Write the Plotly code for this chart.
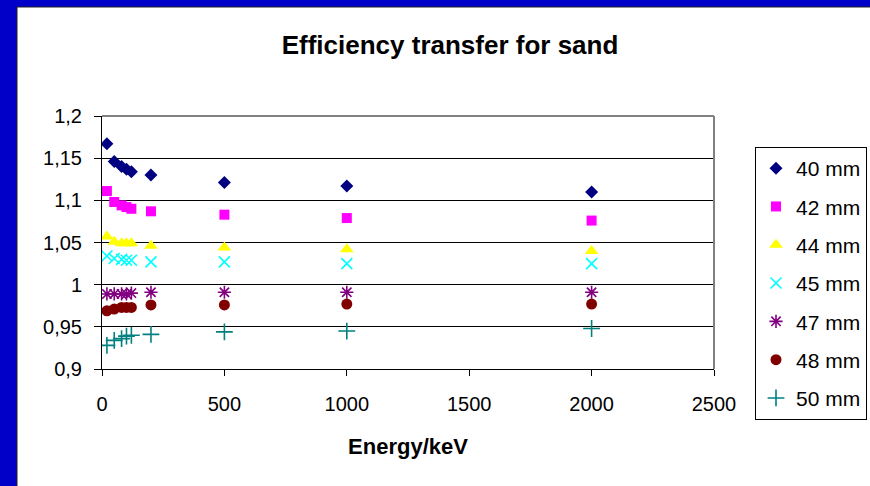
import plotly.graph_objects as go

# Gamma energies (keV) at which the transfer factors were computed
energy = [20, 50, 80, 100, 120, 200, 500, 1000, 2000]

# Efficiency transfer factor per sample thickness
eff_40 = [1.167, 1.146, 1.140, 1.137, 1.134, 1.130, 1.121, 1.117, 1.110]
eff_42 = [1.111, 1.098, 1.094, 1.092, 1.090, 1.087, 1.083, 1.079, 1.076]
eff_44 = [1.057, 1.051, 1.049, 1.049, 1.049, 1.046, 1.044, 1.042, 1.040]
eff_45 = [1.034, 1.031, 1.030, 1.029, 1.029, 1.027, 1.027, 1.025, 1.025]
eff_47 = [0.989, 0.989, 0.989, 0.989, 0.990, 0.991, 0.991, 0.991, 0.991]
eff_48 = [0.969, 0.971, 0.973, 0.973, 0.973, 0.976, 0.976, 0.977, 0.977]
eff_50 = [0.928, 0.934, 0.936, 0.939, 0.940, 0.941, 0.944, 0.945, 0.948]

series_names = ["40 mm", "42 mm", "44 mm", "45 mm", "47 mm", "48 mm", "50 mm"]
series_values = [eff_40, eff_42, eff_44, eff_45, eff_47, eff_48, eff_50]

x_ticks = [0, 500, 1000, 1500, 2000, 2500]
x_tick_labels = ["0", "500", "1000", "1500", "2000", "2500"]
y_ticks = [0.9, 0.95, 1.0, 1.05, 1.1, 1.15, 1.2]
y_tick_labels = ["0,9", "0,95", "1", "1,05", "1,1", "1,15", "1,2"]

styles = [
    dict(symbol="diamond", color="#000080", size=10),
    dict(symbol="square", color="#FF00FF", size=10),
    dict(symbol="triangle-up", color="#FFFF00", size=12),
    dict(symbol="x-thin-open", color="#00FFFF", size=11, line=dict(width=1.6, color="#00FFFF")),
    dict(symbol="asterisk-open", color="#800080", size=11, line=dict(width=1.6, color="#800080")),
    dict(symbol="circle", color="#800000", size=11),
    dict(symbol="cross-thin-open", color="#008080", size=12, line=dict(width=1.6, color="#008080")),
]

fig = go.Figure()
for name, vals, st in zip(series_names, series_values, styles):
    marker = dict(symbol=st["symbol"], color=st["color"], size=st["size"])
    if "line" in st:
        marker["line"] = st["line"]
    else:
        marker["line"] = dict(width=0)
    fig.add_trace(go.Scatter(x=energy, y=vals, mode="markers", name=name,
                             legendgroup=name, marker=marker))

W, H = 870, 486
L, R, T, B = 102, 156, 116, 117
pw, ph = W - L - R, H - T - B

def px_x(p):
    return (p - L) / pw

def px_y(p):
    return (H - B - p) / ph

shapes = [
    # white chart sheet inside the blue frame
    dict(type="rect", xref="paper", yref="paper", layer="below",
         x0=px_x(17), x1=px_x(W + 5), y0=px_y(H + 5), y1=px_y(7),
         fillcolor="white", line=dict(color="#222222", width=1)),
    # grey top/right border of the plot area
    dict(type="line", xref="paper", yref="paper", layer="above",
         x0=0, x1=1, y0=1, y1=1, line=dict(color="#808080", width=2)),
    dict(type="line", xref="paper", yref="paper", layer="above",
         x0=1, x1=1, y0=0, y1=1, line=dict(color="#808080", width=2)),
]

font_family = "Liberation Sans, Arial, sans-serif"

fig.update_layout(
    width=W, height=H,
    margin=dict(l=L, r=R, t=T, b=B, autoexpand=False),
    paper_bgcolor="#0000C8",
    plot_bgcolor="#C0C0C0",
    font=dict(family=font_family, color="black", size=20),
    title=dict(text="<b>Efficiency transfer for sand</b>", x=450 / W, xref="container",
               xanchor="center", y=1 - 45 / H, yref="container", yanchor="middle",
               font=dict(size=26, family=font_family, color="black")),
    xaxis=dict(range=[0, 2500], tickvals=x_ticks, ticktext=x_tick_labels,
               showgrid=False, zeroline=False, showline=True, linecolor="black", linewidth=1,
               ticks="outside", ticklen=6, tickcolor="black", ticklabelstandoff=11,
               title=dict(text="<b>Energy/keV</b>", font=dict(size=22), standoff=24),
               tickfont=dict(size=20)),
    yaxis=dict(range=[0.9, 1.2], tickvals=y_ticks, ticktext=y_tick_labels,
               showgrid=True, gridcolor="black", gridwidth=1, zeroline=False,
               showline=True, linecolor="black", linewidth=1,
               ticks="outside", ticklen=7, tickcolor="black", ticklabelstandoff=8,
               tickfont=dict(size=20)),
    legend=dict(x=px_x(755), y=px_y(147), xanchor="left", yanchor="top",
                bgcolor="white", bordercolor="black", borderwidth=1,
                font=dict(size=21), tracegroupgap=8, traceorder="grouped",
                itemwidth=30, maxheight=460),
    shapes=shapes,
    showlegend=True,
)

fig.write_html("out.html")
